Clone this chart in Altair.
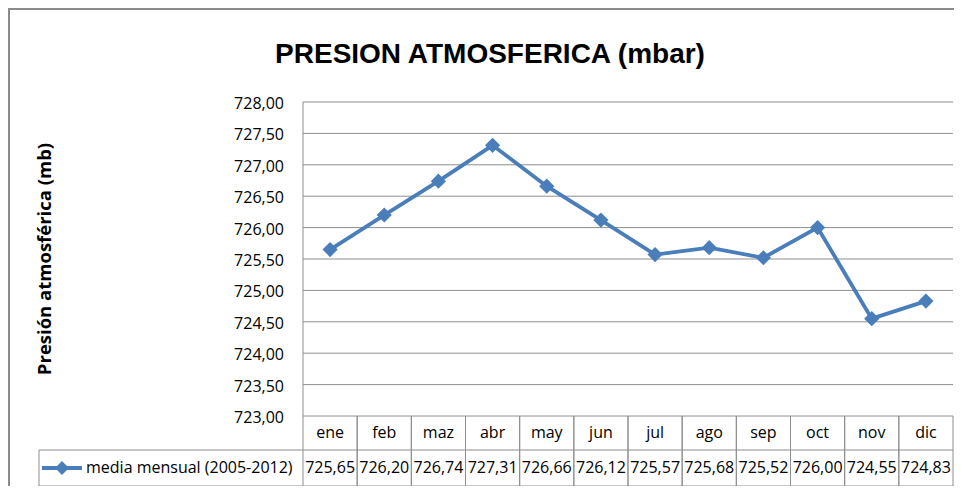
import altair as alt
import pandas as pd

months = ["ene", "feb", "maz", "abr", "may", "jun", "jul", "ago", "sep", "oct", "nov", "dic"]
values = [725.65, 726.20, 726.74, 727.31, 726.66, 726.12, 725.57, 725.68, 725.52, 726.00, 724.55, 724.83]
y_ticks = [723.0, 723.5, 724.0, 724.5, 725.0, 725.5, 726.0, 726.5, 727.0, 727.5, 728.0]
series_name = "media mensual (2005-2012)"
title_text = "PRESION ATMOSFERICA (mbar)"
y_title = "Presión atmosférica (mb)"

df = pd.DataFrame({"month": months, "value": values})
ticks_df = pd.DataFrame({"tick": y_ticks})
one = pd.DataFrame({"k": [0]})

W, H = 650, 314
BLUE = "#4A7EBB"
GRID = "#8E8E8E"
FONT = "Open Sans"

xscale = alt.Scale(type="band", domain=months, paddingInner=0, paddingOuter=0)
yscale = alt.Scale(domain=[723, 728], nice=False, zero=False)

base = alt.Chart(df)
tk = alt.Chart(ticks_df)

X = dict(scale=xscale, axis=None, sort=months)

grid = tk.mark_rule(color=GRID, strokeWidth=1).encode(
    y=alt.Y("tick:Q", scale=yscale, axis=None),
    x=alt.value(0), x2=alt.value(W),
)
ylabels = tk.transform_calculate(
    lbl="replace(format(datum.tick, '.2f'), '.', ',')"
).mark_text(font=FONT, fontSize=16, color="#000000", align="right", baseline="middle", dy=2).encode(
    y=alt.Y("tick:Q", scale=yscale, axis=None),
    x=alt.value(-19),
    text="lbl:N",
)

line = base.mark_line(color=BLUE, strokeWidth=3.8).encode(
    x=alt.X("month:N", bandPosition=0.5, **X),
    y=alt.Y("value:Q", scale=yscale, axis=None),
)
points = base.mark_point(shape="diamond", filled=True, size=230, color=BLUE, opacity=1).encode(
    x=alt.X("month:N", bandPosition=0.5, **X),
    y=alt.Y("value:Q", scale=yscale, axis=None),
)

# data table: vertical separators
vlines0 = base.mark_rule(color=GRID, strokeWidth=1).encode(
    x=alt.X("month:N", bandPosition=0, **X),
    y=alt.value(H), y2=alt.value(384),
)
vlines1 = base.mark_rule(color=GRID, strokeWidth=1).encode(
    x=alt.X("month:N", bandPosition=1, **X),
    y=alt.value(H), y2=alt.value(384),
)

month_text = base.mark_text(font=FONT, fontSize=16, color="#000000", baseline="middle", align="center").encode(
    x=alt.X("month:N", bandPosition=0.5, **X),
    y=alt.value(331),
    text="month:N",
)
value_text = base.transform_calculate(
    lbl="replace(format(datum.value, '.2f'), '.', ',')"
).mark_text(font=FONT, fontSize=16, color="#000000", baseline="middle", align="center").encode(
    x=alt.X("month:N", bandPosition=0.5, **X),
    y=alt.value(366),
    text="lbl:N",
)

c1 = alt.Chart(one)
yaxis_line = c1.mark_rule(color=GRID, strokeWidth=1).encode(x=alt.value(0), y=alt.value(0), y2=alt.value(H))
hline_mid = c1.mark_rule(color=GRID, strokeWidth=1).encode(x=alt.value(-264), x2=alt.value(W), y=alt.value(348))
hline_bot = c1.mark_rule(color=GRID, strokeWidth=1).encode(x=alt.value(-264), x2=alt.value(W), y=alt.value(384))
vline_leg = c1.mark_rule(color=GRID, strokeWidth=1).encode(x=alt.value(-264), y=alt.value(348), y2=alt.value(384))

leg_line = c1.mark_rule(color=BLUE, strokeWidth=3.8).encode(x=alt.value(-261), x2=alt.value(-221), y=alt.value(366))
leg_pt = c1.mark_point(shape="diamond", filled=True, size=190, color=BLUE, opacity=1).encode(
    x=alt.value(-241), y=alt.value(366)
)
leg_text = c1.mark_text(font=FONT, fontSize=16, color="#000000", align="left", baseline="middle").encode(
    x=alt.value(-217), y=alt.value(366), text=alt.value(series_name)
)

ytitle = c1.mark_text(font=FONT, fontSize=18.5, fontWeight="bold", color="#000000",
                      align="center", baseline="middle", angle=270).encode(
    x=alt.value(-258), y=alt.value(157), text=alt.value(y_title)
)

title = c1.mark_text(font="Liberation Sans", fontSize=28, fontWeight="bold", color="#000000",
                     align="center", baseline="middle").encode(
    x=alt.value(187), y=alt.value(-47), text=alt.value(title_text)
)

border_left = c1.mark_rule(color="#8A8A8A", strokeWidth=2).encode(x=alt.value(-294), y=alt.value(-94), y2=alt.value(400))
border_top = c1.mark_rule(color="#8A8A8A", strokeWidth=2).encode(x=alt.value(-295), x2=alt.value(700), y=alt.value(-93))

chart = alt.layer(
    border_left, border_top,
    grid, yaxis_line,
    vlines0, vlines1, hline_mid, hline_bot, vline_leg,
    line, points,
    ylabels, month_text, value_text,
    leg_line, leg_pt, leg_text,
    ytitle, title,
).properties(
    width=W, height=H,
    autosize=alt.AutoSizeParams(type="none"),
    padding={"left": 295, "top": 94, "right": 1, "bottom": 70},
    background="#FFFFFF",
).configure_view(stroke=None)

chart.save("out.html", embed_options={"renderer": "svg", "actions": False})
